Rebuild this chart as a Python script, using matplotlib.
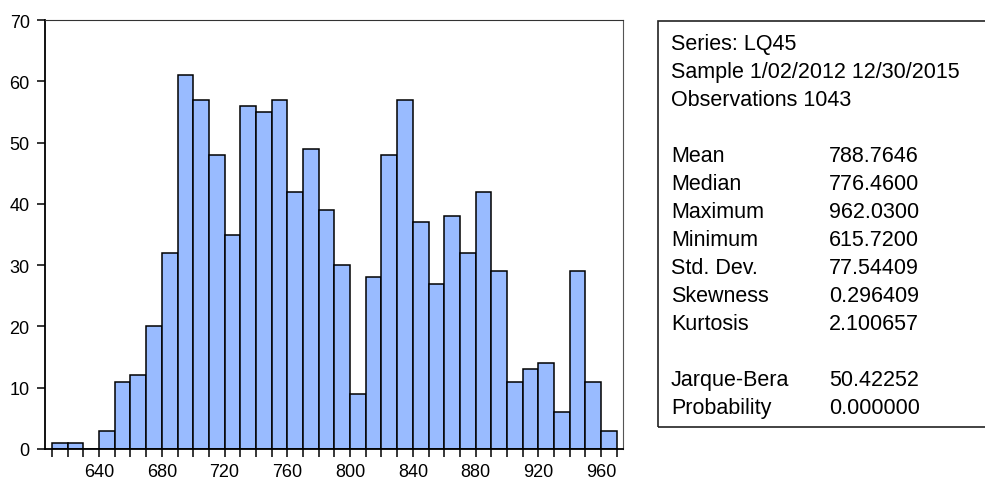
import matplotlib
matplotlib.use("Agg")
from matplotlib import pyplot as plt
from matplotlib.patches import Rectangle

# histogram of LQ45, bins of width 10
bin_left = list(range(610, 970, 10))
counts = [1, 1, 0, 3, 11, 12, 20, 32, 61, 57, 48, 35, 56, 55, 57, 42, 49, 39,
          30, 9, 28, 48, 57, 37, 27, 38, 32, 42, 29, 11, 13, 14, 6, 29, 11, 3]
tick_labels = [640, 680, 720, 760, 800, 840, 880, 920, 960]

stat_names = ["Mean", "Median", "Maximum", "Minimum", "Std. Dev.", "Skewness", "Kurtosis"]
stat_values = ["788.7646", "776.4600", "962.0300", "615.7200", "77.54409", "0.296409", "2.100657"]
test_names = ["Jarque-Bera", "Probability"]
test_values = ["50.42252", "0.000000"]
header = ["Series: LQ45", "Sample 1/02/2012 12/30/2015", "Observations 1043"]

plt.rcParams['font.family'] = ['Liberation Sans', 'DejaVu Sans']

W, H = 985, 481
fig = plt.figure(figsize=(W / 100, H / 100), dpi=100)
ax = fig.add_axes([45 / W, 1 - 450 / H, (623 - 45) / W, (450 - 21) / H])

ax.bar(bin_left, counts, width=10, align='edge', color='#99bbff', edgecolor='black', linewidth=1.1)
ax.set_xlim(605.5, 974)
ax.set_ylim(0, 70)

edges = list(range(610, 971, 10))
ax.set_xticks(edges)
ax.set_xticklabels([str(e) if e in tick_labels else "" for e in edges])
ax.set_yticks(range(0, 71, 10))
ax.tick_params(axis='both', direction='out', length=6, width=1.1, labelsize=13, colors='black')
ax.tick_params(axis='x', pad=4)
ax.tick_params(axis='y', pad=5)
ax.spines['left'].set_linewidth(1.3)
ax.spines['bottom'].set_linewidth(1.3)
ax.spines['top'].set_color('#333333')
ax.spines['right'].set_color('#555555')

# stats box
x0, y0, y1 = 658, 22, 428
fig.patches.append(Rectangle((x0 / W, 1 - y1 / H), (W + 10 - x0) / W, (y1 - y0) / H,
                             transform=fig.transFigure, fill=False, edgecolor='#222222',
                             linewidth=1.2, clip_on=False))

fs = 15.5
tx, vx = 671 / W, 829 / W
for i, t in enumerate(header):
    fig.text(tx, 1 - (45 + 28 * i) / H, t, fontsize=fs, va='center', ha='left')
for i, (n, v) in enumerate(zip(stat_names, stat_values)):
    yy = 1 - (157 + 28 * i) / H
    fig.text(tx, yy, n, fontsize=fs, va='center', ha='left')
    fig.text(vx, yy, v, fontsize=fs, va='center', ha='left')
for i, (n, v) in enumerate(zip(test_names, test_values)):
    yy = 1 - (381 + 28 * i) / H
    fig.text(tx, yy, n, fontsize=fs, va='center', ha='left')
    fig.text(vx, yy, v, fontsize=fs, va='center', ha='left')

fig.savefig("out.png", dpi=100)
